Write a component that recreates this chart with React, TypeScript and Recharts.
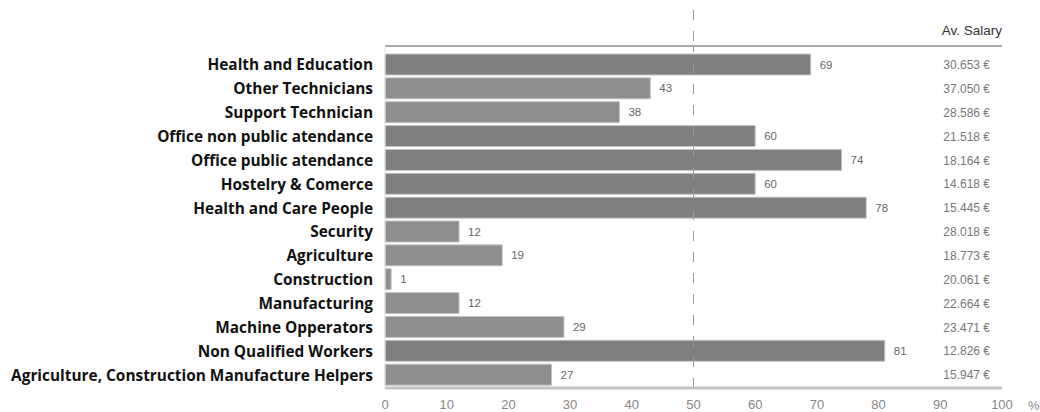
import { ComposedChart, Bar, Line, XAxis, YAxis, Cell, LabelList, ReferenceLine } from "recharts";

// occupation groups, top to bottom
const occupations = [
  "Health and Education",
  "Other Technicians",
  "Support Technician ",
  "Office non public atendance",
  "Office public atendance",
  "Hostelry & Comerce",
  "Health and Care People",
  "Security",
  "Agriculture",
  "Construction",
  "Manufacturing",
  "Machine Opperators",
  "Non Qualified Workers",
  "Agriculture, Construction Manufacture Helpers",
];

// share per group, in %
const shares = [69, 43, 38, 60, 74, 60, 78, 12, 19, 1, 12, 29, 81, 27];

// average salary per group
const salaries = [
  "30.653 €",
  "37.050 €",
  "28.586 €",
  "21.518 €",
  "18.164 €",
  "14.618 €",
  "15.445 €",
  "28.018 €",
  "18.773 €",
  "20.061 €",
  "22.664 €",
  "23.471 €",
  "12.826 €",
  "15.947 €",
];

const percentTicks = [0, 10, 20, 30, 40, 50, 60, 70, 80, 90, 100];

const rows = occupations.map((name, i) => ({
  name,
  share: shares[i],
  salary: salaries[i],
}));

const sans = "'Liberation Sans', Arial, sans-serif";
const HEADER = 36; // height of the band above the top rule
const DASH = "10 11";

// dashed marker drawn from the top tick down to the rule
function MarkerTick({ x, y }: { x?: number; y?: number }) {
  if (x == null || y == null) return null;
  return <line x1={x} x2={x} y1={y} y2={y + HEADER} stroke="#999" strokeDasharray={DASH} />;
}

export default function App() {
  return (
    <div style={{ position: "absolute", left: 0, top: 0, background: "#fff" }}>
      <ComposedChart
        width={1040}
        height={412}
        data={rows}
        layout="vertical"
        margin={{ top: 10, right: 38, bottom: 0, left: 0 }}
        barSize={21}
      >
        <XAxis
          xAxisId="top"
          orientation="top"
          type="number"
          domain={[0, 100]}
          ticks={[50]}
          height={HEADER}
          tickSize={HEADER}
          tickMargin={0}
          tickLine={false}
          tick={<MarkerTick />}
          axisLine={{ stroke: "#aaa", strokeWidth: 2 }}
          label={{
            value: "Av. Salary",
            position: "insideRight",
            offset: 0,
            fill: "#333",
            fontSize: 13.5,
            fontFamily: sans,
            dy: 2,
          }}
        />
        <XAxis
          xAxisId="bottom"
          type="number"
          domain={[0, 100]}
          ticks={percentTicks}
          height={24}
          tickSize={6}
          tickMargin={6}
          tickLine={false}
          axisLine={{ stroke: "#c4c4c4", strokeWidth: 3 }}
          tick={{ fill: "#888", fontSize: 13, fontFamily: sans }}
          label={{
            value: "%",
            position: "right",
            offset: 26,
            fill: "#888",
            fontSize: 13,
            fontFamily: sans,
            dy: 5,
          }}
        />
        <YAxis
          yAxisId="cat"
          type="category"
          dataKey="name"
          width={385}
          padding={{ top: 7, bottom: 1 }}
          tickLine={false}
          tickSize={0}
          tickMargin={12}
          interval={0}
          axisLine={{ stroke: "#e4e4e4" }}
          tick={{ fill: "#111", fontSize: 15.4, fontWeight: 700, fontFamily: "'Open Sans', sans-serif" }}
        />
        {/* salary column, mirrored into the right edge of the plot */}
        <YAxis
          yAxisId="salary"
          orientation="right"
          type="category"
          dataKey="salary"
          width={90}
          mirror
          padding={{ top: 7, bottom: 1 }}
          tickLine={false}
          axisLine={false}
          tickSize={0}
          tickMargin={12}
          interval={0}
          tick={{ fill: "#777", fontSize: 12, fontFamily: sans }}
        />
        <ReferenceLine
          xAxisId="bottom"
          yAxisId="cat"
          x={50}
          stroke="#999"
          strokeDasharray={DASH}
        />
        <Bar
          xAxisId="bottom"
          yAxisId="cat"
          dataKey="share"
          stroke="#c4c4c4"
          strokeWidth={1}
          isAnimationActive={false}
        >
          {rows.map((r) => (
            <Cell key={r.name} fill={r.share > 50 ? "#7f7f7f" : "#8e8e8e"} />
          ))}
          <LabelList
            dataKey="share"
            position="right"
            offset={9}
            fill="#666"
            fontSize={11.5}
            fontFamily={sans}
          />
        </Bar>
        {/* hidden series so the top and salary axes get a domain */}
        <Line
          xAxisId="top"
          yAxisId="salary"
          dataKey="share"
          stroke="none"
          dot={false}
          activeDot={false}
          legendType="none"
          isAnimationActive={false}
        />
      </ComposedChart>
    </div>
  );
}
